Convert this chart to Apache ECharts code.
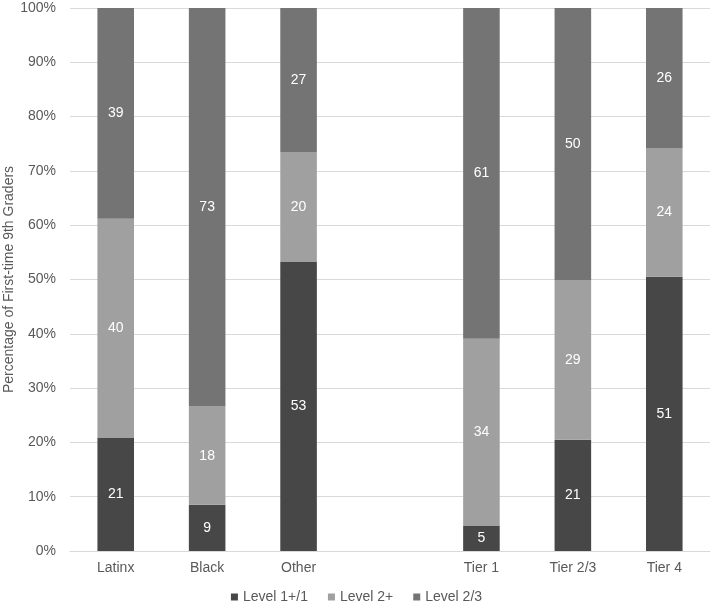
<!DOCTYPE html>
<html><head><meta charset="utf-8">
<script src="https://cdn.jsdelivr.net/npm/echarts@6/dist/echarts.min.js"></script>
<style>html,body{margin:0;padding:0;background:#fff}#c{width:713px;height:607px}</style>
</head><body><div id="c"></div>
<script>
var categories = ['Latinx', 'Black', 'Other', '', 'Tier 1', 'Tier 2/3', 'Tier 4'];
var seriesNames = ['Level 1+/1', 'Level 2+', 'Level 2/3'];
var level1 = [20.8, 8.5, 53.3, null, 4.7, 20.5, 50.5];
var level2 = [40.4, 18.1, 20.1, null, 34.4, 29.3, 23.7];
var level3 = [38.8, 73.4, 26.6, null, 60.9, 50.2, 25.8];
var yTicks = [0, 10, 20, 30, 40, 50, 60, 70, 80, 90, 100];
var colors = ['#474747', '#a0a0a0', '#747474'];

var font = 'Liberation Sans, Arial, sans-serif';
function mk(name, data, color) {
  return {
    name: name, type: 'bar', stack: 'total', data: data, barWidth: '40%',
    itemStyle: { color: color },
    label: { show: true, position: 'inside', color: '#fff', fontSize: 14, fontFamily: font,
      formatter: function (p) { return p.value == null ? '' : Math.round(p.value); } }
  };
}
var chart = echarts.init(document.getElementById('c'));
chart.setOption({
  animation: false,
  textStyle: { fontFamily: font },
  grid: { left: 70, right: 3, top: 8, bottom: 56, containLabel: false, outerBoundsMode: 'none' },
  legend: {
    top: 585, left: 'center', itemWidth: 7, itemHeight: 7, itemGap: 20,
    icon: 'rect', textStyle: { fontSize: 14, color: '#595959', fontFamily: font },
    data: seriesNames
  },
  xAxis: {
    type: 'category', data: categories,
    axisLine: { show: true, lineStyle: { color: '#d9d9d9' } },
    axisTick: { show: false },
    axisLabel: { color: '#595959', fontSize: 14, margin: 10, fontFamily: font }
  },
  yAxis: {
    type: 'value', min: yTicks[0], max: yTicks[yTicks.length - 1], interval: 10,
    name: 'Percentage of First-time 9th Graders', nameLocation: 'middle', nameGap: 54,
    nameMoveOverlap: false,
    nameTextStyle: { color: '#595959', fontSize: 14, fontFamily: font },
    axisLine: { show: false }, axisTick: { show: false },
    axisLabel: { color: '#595959', fontSize: 14, margin: 14, formatter: '{value}%', fontFamily: font },
    splitLine: { lineStyle: { color: '#d9d9d9' } }
  },
  series: [mk(seriesNames[0], level1, colors[0]), mk(seriesNames[1], level2, colors[1]), mk(seriesNames[2], level3, colors[2])]
});
</script></body></html>
